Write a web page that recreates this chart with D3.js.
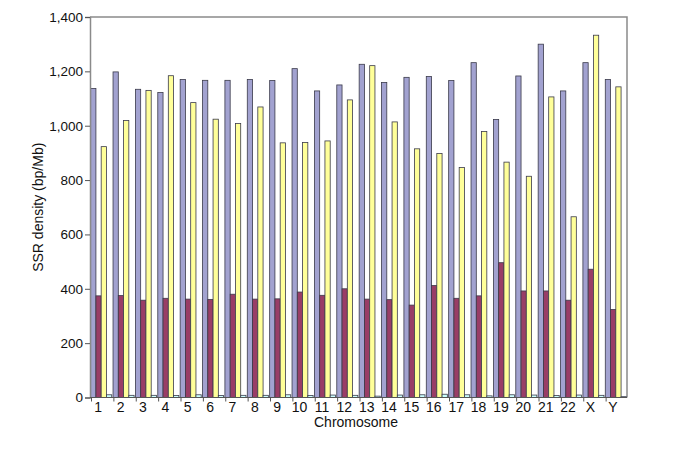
<!DOCTYPE html>
<html>
<head>
<meta charset="utf-8">
<script src="https://cdn.jsdelivr.net/npm/d3@7"></script>
<style>
  body { margin: 0; background: #fff; }
  svg { font-family: 'Liberation Sans', Arial, sans-serif; }
</style>
</head>
<body>
<svg width="685" height="451"></svg>
<script>
// Data
const chromosomes = ['1', '2', '3', '4', '5', '6', '7', '8', '9', '10', '11', '12',
  '13', '14', '15', '16', '17', '18', '19', '20', '21', '22', 'X', 'Y']
const seriesA = [1137, 1198, 1134, 1122, 1170, 1167, 1167, 1170, 1166, 1210, 1128, 1150,
  1226, 1159, 1178, 1181, 1166, 1232, 1023, 1183, 1300, 1128, 1232, 1170]
const seriesB = [374, 375, 358, 365, 362, 361, 380, 362, 363, 388, 376, 400,
  362, 360, 340, 412, 365, 374, 496, 392, 392, 358, 472, 324]
const seriesC = [923, 1019, 1130, 1184, 1085, 1024, 1008, 1069, 937, 938, 944, 1095,
  1221, 1014, 915, 898, 846, 979, 866, 814, 1106, 665, 1333, 1143]
const seriesD = [10, 8, 8, 7, 10, 7, 8, 8, 10, 7, 9, 8,
  5, 9, 10, 12, 10, 6, 10, 9, 7, 9, 8, 3]
const yTicks = [0, 200, 400, 600, 800, 1000, 1200, 1400]

const series = [
  { key: 'a', values: seriesA, fill: '#a2a2d0' },
  { key: 'b', values: seriesB, fill: '#993d66' },
  { key: 'c', values: seriesC, fill: '#ffff99' },
  { key: 'd', values: seriesD, fill: '#ccffff' }
]

const xPixelMin = 90
const xPixelMax = 627
const yPixelMin = 17
const yPixelMax = 397.5

const svg = d3.select('svg')

// Scales
let xScale = d3.scaleBand().domain(chromosomes).range([xPixelMin, xPixelMax])
  .paddingInner(0).paddingOuter(0)
let inner = d3.scaleBand().domain(series.map((s) => s.key))
  .range([0, xScale.bandwidth()]).paddingInner(0).paddingOuter(0.125)
let yScale = d3.scaleLinear().domain([0, 1400]).range([yPixelMax, yPixelMin])

// Frame (top and right)
svg.append('path')
  .attr('d', `M${xPixelMin},${yPixelMin}H${xPixelMax}V${yPixelMax}`)
  .attr('fill', 'none')
  .attr('stroke', '#8a8a8a')
  .attr('stroke-width', 1.5)

// Bars
series.forEach((s) => {
  svg.append('g')
    .selectAll('rect')
    .data(s.values)
    .enter()
    .append('rect')
    .attr('x', (d, i) => xScale(chromosomes[i]) + inner(s.key))
    .attr('y', (d) => yScale(d))
    .attr('width', inner.bandwidth())
    .attr('height', (d) => yScale(0) - yScale(d))
    .attr('fill', s.fill)
    .attr('stroke', '#3a3a4a')
    .attr('stroke-width', 0.8)
})

// Y axis
let yAxis = d3.axisLeft(yScale).tickValues(yTicks).tickSize(5)
  .tickFormat(d3.format(','))
const yAxisG = svg.append('g')
  .attr('transform', `translate(${xPixelMin},0)`)
  .call(yAxis)
yAxisG.select('.domain').attr('stroke', '#8a8a8a').attr('stroke-width', 1.5)
yAxisG.selectAll('.tick line').attr('stroke', '#555')
yAxisG.selectAll('.tick text')
  .attr('font-size', 13.5)
  .attr('fill', '#111')
  .attr('x', -7)
  .attr('font-family', "'Liberation Sans', Arial, sans-serif")

// X axis: tick marks at category boundaries
svg.append('line')
  .attr('x1', xPixelMin).attr('x2', xPixelMax)
  .attr('y1', yPixelMax).attr('y2', yPixelMax)
  .attr('stroke', '#555').attr('stroke-width', 1.2)

svg.append('g')
  .selectAll('line')
  .data(chromosomes)
  .enter()
  .append('line')
  .attr('x1', (d) => xScale(d) + 1.5)
  .attr('x2', (d) => xScale(d) + 1.5)
  .attr('y1', yPixelMax)
  .attr('y2', yPixelMax + 4)
  .attr('stroke', '#555')

svg.append('g')
  .selectAll('text')
  .data(chromosomes)
  .enter()
  .append('text')
  .attr('x', (d) => xScale(d) + xScale.bandwidth() / 2 - 3)
  .attr('y', yPixelMax + 14)
  .attr('text-anchor', 'middle')
  .attr('font-size', 14)
  .attr('fill', '#111')
  .text((d) => d)

// Axis titles
svg.append('text')
  .attr('x', 356)
  .attr('y', 427)
  .attr('text-anchor', 'middle')
  .attr('font-size', 14)
  .attr('fill', '#111')
  .text('Chromosome')

svg.append('text')
  .attr('transform', `translate(43, ${(yPixelMin + yPixelMax) / 2}) rotate(-90)`)
  .attr('text-anchor', 'middle')
  .attr('font-size', 14)
  .attr('fill', '#111')
  .text('SSR density (bp/Mb)')
</script>
</body>
</html>
